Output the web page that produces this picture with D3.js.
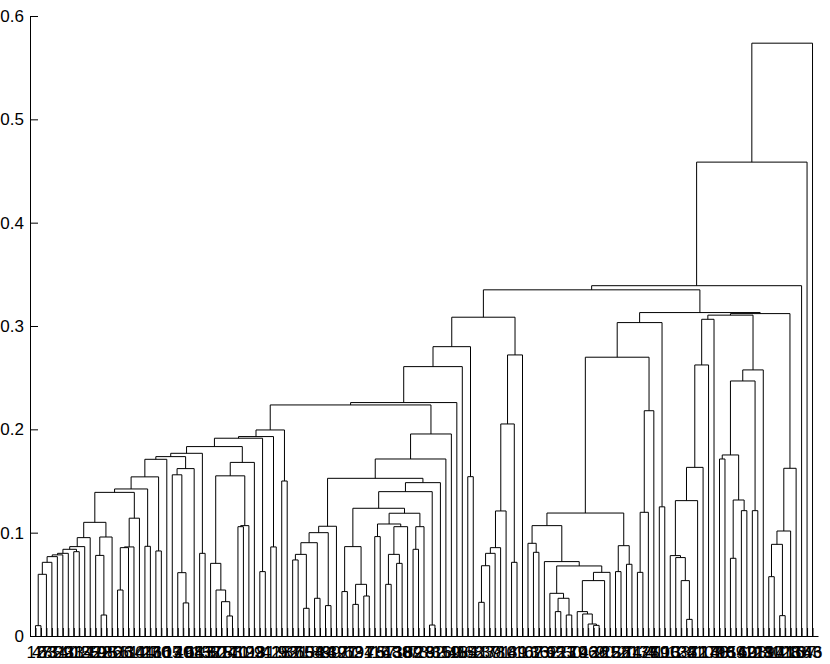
<!DOCTYPE html>
<html><head><meta charset="utf-8">
<script src="https://cdn.jsdelivr.net/npm/d3@7"></script>
<style>body{margin:0;background:#fff}</style>
</head><body>
<svg id="chart" width="830" height="664"></svg>
<script>
// Leaf labels in display order (original observation indices)
const leafLabels = [
  12, 47, 63, 85, 31, 29, 40, 33, 114, 125,
  55, 19, 22, 98, 86, 51, 26, 61, 34, 101,
  44, 27, 130, 66, 105, 17, 120, 49, 108, 64,
  113, 135, 52, 80, 75, 24, 83, 70, 111, 129,
  93, 3, 81, 42, 118, 9, 53, 87, 21, 65,
  104, 58, 88, 14, 99, 39, 127, 71, 62, 131,
  94, 7, 76, 16, 57, 48, 138, 30, 109, 82,
  73, 28, 8, 92, 35, 119, 60, 45, 115, 84,
  68, 11, 23, 37, 78, 91, 10, 4, 89, 1,
  102, 67, 36, 132, 6, 95, 121, 13, 50, 79,
  106, 43, 126, 2, 90, 25, 122, 56, 20, 74,
  112, 134, 77, 41, 59, 100, 15, 133, 124, 32,
  5, 72, 117, 107, 140, 38, 96, 139, 54, 142,
  69, 103, 123, 18, 110, 97, 141, 128, 116, 136,
  137, 143, 46
];

// Merges: [node name, left child, right child, height]; numbers = leaf positions
const merges = [
  ["c1", 1, 2, 0.010], ["c2", "c1", 3, 0.0597], ["c3", "c2", 4, 0.0713],
  ["c4", "c3", 5, 0.0768], ["c5", "c4", 6, 0.0785], ["c6", "c5", 7, 0.0800],
  ["p89", 8, 9, 0.0816], ["c7", "c6", "p89", 0.0839], ["c8", "c7", 10, 0.0865],
  ["c9", "c8", 11, 0.0952],
  ["p1314", 13, 14, 0.0203], ["d1", 12, "p1314", 0.078], ["d2", "d1", 15, 0.0958],
  ["e", "c9", "d2", 0.110],
  ["p1617", 16, 17, 0.0445], ["f1", "p1617", 18, 0.0855], ["f2", "f1", 19, 0.0862],
  ["g", "f2", 20, 0.114], ["h", "e", "g", 0.139],
  ["p2122", 21, 22, 0.0868], ["i", "h", "p2122", 0.1423],
  ["p2324", 23, 24, 0.0823], ["j", "i", "p2324", 0.154], ["k", "j", 25, 0.171],
  ["p2829", 28, 29, 0.032], ["m1", 27, "p2829", 0.0613], ["m", 26, "m1", 0.156],
  ["n", "m", 30, 0.162], ["o", "k", "n", 0.1736],
  ["p3132", 31, 32, 0.080], ["p", "o", "p3132", 0.1768],
  ["p3637", 36, 37, 0.0194], ["q1", 35, "p3637", 0.0332], ["q2", 34, "q1", 0.0445],
  ["q3", 33, "q2", 0.0703], ["p3839", 38, 39, 0.1058], ["q4", "p3839", 40, 0.1068],
  ["q5", "q3", "q4", 0.155], ["q", "q5", 41, 0.168], ["r", "p", "q", 0.1833],
  ["p4243", 42, 43, 0.0623], ["s", "r", "p4243", 0.1914],
  ["p4445", 44, 45, 0.0862], ["t", "s", "p4445", 0.193],
  ["p4647", 46, 47, 0.150], ["u", "t", "p4647", 0.1994],
  ["p4849", 48, 49, 0.0736], ["p5051", 50, 51, 0.0268], ["a1", "p4849", "p5051", 0.079],
  ["p5253", 52, 53, 0.0365], ["a2", "a1", "p5253", 0.0903],
  ["p5455", 54, 55, 0.0294], ["a3", "a2", "p5455", 0.100], ["a4", "a3", 56, 0.1062],
  ["p5758", 57, 58, 0.043], ["p5960", 59, 60, 0.0306], ["p6162", 61, 62, 0.0387],
  ["b1", "p5960", "p6162", 0.050], ["b2", "p5758", "b1", 0.0865],
  ["p6364", 63, 64, 0.0962], ["p6566", 65, 66, 0.050], ["p6768", 67, 68, 0.0703],
  ["cc2", "p6566", "p6768", 0.079], ["cc2b", "cc2", 69, 0.1058],
  ["cc3", "p6364", "cc2b", 0.1084], ["p7071", 70, 71, 0.0839], ["xc", "p7071", 72, 0.1058],
  ["cc4", "cc3", "xc", 0.1188], ["b3", "b2", "cc4", 0.1236],
  ["p7374", 73, 74, 0.0106], ["y1", "b3", "p7374", 0.1397], ["y2", "y1", 75, 0.1484],
  ["y2b", "a4", "y2", 0.1526], ["y3", "y2b", 76, 0.1713], ["x", "y3", 77, 0.1955],
  ["v", "u", "x", 0.2236], ["w", "v", 78, 0.2259], ["w2", "w", 79, 0.2607],
  ["p8081", 80, 81, 0.1542], ["w3", "w2", "p8081", 0.280],
  ["p8283", 82, 83, 0.0326], ["z1", "p8283", 84, 0.068], ["z2", "z1", 85, 0.080],
  ["z3", "z2", 86, 0.0855], ["z4", "z3", 87, 0.121], ["p8889", 88, 89, 0.0713],
  ["z5", "z4", "p8889", 0.2052], ["z", "z5", 90, 0.272], ["w4", "w3", "z", 0.3085],
  ["p9293", 92, 93, 0.081], ["dd1", 91, "p9293", 0.0897],
  ["p9697", 96, 97, 0.0236], ["p9899", 98, 99, 0.0203], ["gg", "p9697", "p9899", 0.0365],
  ["fl", 95, "gg", 0.0413],
  ["p103104", 103, 104, 0.0103], ["i3", 102, "p103104", 0.0116], ["i2", 101, "i3", 0.0213],
  ["ii", 100, "i2", 0.0236], ["hh", "ii", 105, 0.0536], ["fr", "hh", 106, 0.0616],
  ["ff", "fl", "fr", 0.0678], ["dd3", 94, "ff", 0.072], ["dd2", "dd1", "dd3", 0.1068],
  ["p107108", 107, 108, 0.0623], ["p109110", 109, 110, 0.0694],
  ["dd5", "p107108", "p109110", 0.0874], ["dd4", "dd2", "dd5", 0.119],
  ["p111112", 111, 112, 0.0616], ["e1a", "p111112", 113, 0.1197], ["e1", "e1a", 114, 0.218],
  ["dd6", "dd4", "e1", 0.2698], ["p115116", 115, 116, 0.125], ["rbl", "dd6", "p115116", 0.3033],
  ["p120121", 120, 121, 0.0161], ["kl1", 119, "p120121", 0.0536], ["kl2", 118, "kl1", 0.0759],
  ["kl", 117, "kl2", 0.0778], ["kk", "kl", 122, 0.131], ["jl", "kk", 123, 0.1632],
  ["jj", "jl", 124, 0.2623], ["na", "jj", 125, 0.3065],
  ["p126127", 126, 127, 0.1713], ["p128129", 128, 129, 0.0752], ["p130131", 130, 131, 0.1213],
  ["l1", "p128129", "p130131", 0.1316], ["l2", "p126127", "l1", 0.1752],
  ["p132133", 132, 133, 0.1213], ["l3", "l2", "p132133", 0.2468], ["xx", "l3", 134, 0.2575],
  ["nb", "na", "xx", 0.3105],
  ["p135136", 135, 136, 0.0574], ["p137138", 137, 138, 0.0197], ["yll", "p135136", "p137138", 0.0887],
  ["yl", "yll", 139, 0.1016], ["yy", "yl", 140, 0.1623],
  ["nb2", "nb", "yy", 0.3120], ["rb", "rbl", "nb2", 0.3130],
  ["w5", "w4", "rb", 0.335], ["w6", "w5", 141, 0.339], ["w7", "w6", 142, 0.4586],
  ["root", "w7", 143, 0.5737]
];

const yTicks = [0, 0.1, 0.2, 0.3, 0.4, 0.5, 0.6];

const n = leafLabels.length;
const svg = d3.select("#chart");
const xScale = d3.scaleLinear().domain([0, n + 1]).range([30, 818]);
const yScale = d3.scaleLinear().domain([0, 0.6]).range([636, 16]);

const pos = {}, hgt = {};
const px = k => typeof k === "number" ? k : pos[k];
const ph = k => typeof k === "number" ? 0 : hgt[k];
merges.forEach(([name, a, b, h]) => { pos[name] = (px(a) + px(b)) / 2; hgt[name] = h; });

const font = "'Liberation Sans', Arial, Helvetica, sans-serif";

// Axes
const yAxis = d3.axisLeft(yScale).tickValues(yTicks).tickFormat(d => String(d))
  .tickSizeInner(-8).tickSizeOuter(0).tickPadding(6);
const gy = svg.append("g").attr("transform", "translate(30,0)").call(yAxis);

const xAxis = d3.axisBottom(xScale).tickValues(d3.range(1, n + 1))
  .tickFormat(i => leafLabels[i - 1]).tickSizeInner(-8).tickSizeOuter(0).tickPadding(10);
const gx = svg.append("g").attr("transform", "translate(0,636)").call(xAxis);

[gy, gx].forEach(g => {
  g.selectAll("path,line").attr("stroke", "#000");
  g.selectAll("text").attr("fill", "#000").style("font-family", font).style("font-size", "17px");
});

// Links
svg.append("g").selectAll("path").data(merges).join("path")
  .attr("d", ([name, a, b, h]) =>
    `M${xScale(px(a))},${yScale(ph(a))}V${yScale(h)}H${xScale(px(b))}V${yScale(ph(b))}`)
  .attr("fill", "none").attr("stroke", "#000").attr("stroke-width", 1);
</script>
</body></html>
